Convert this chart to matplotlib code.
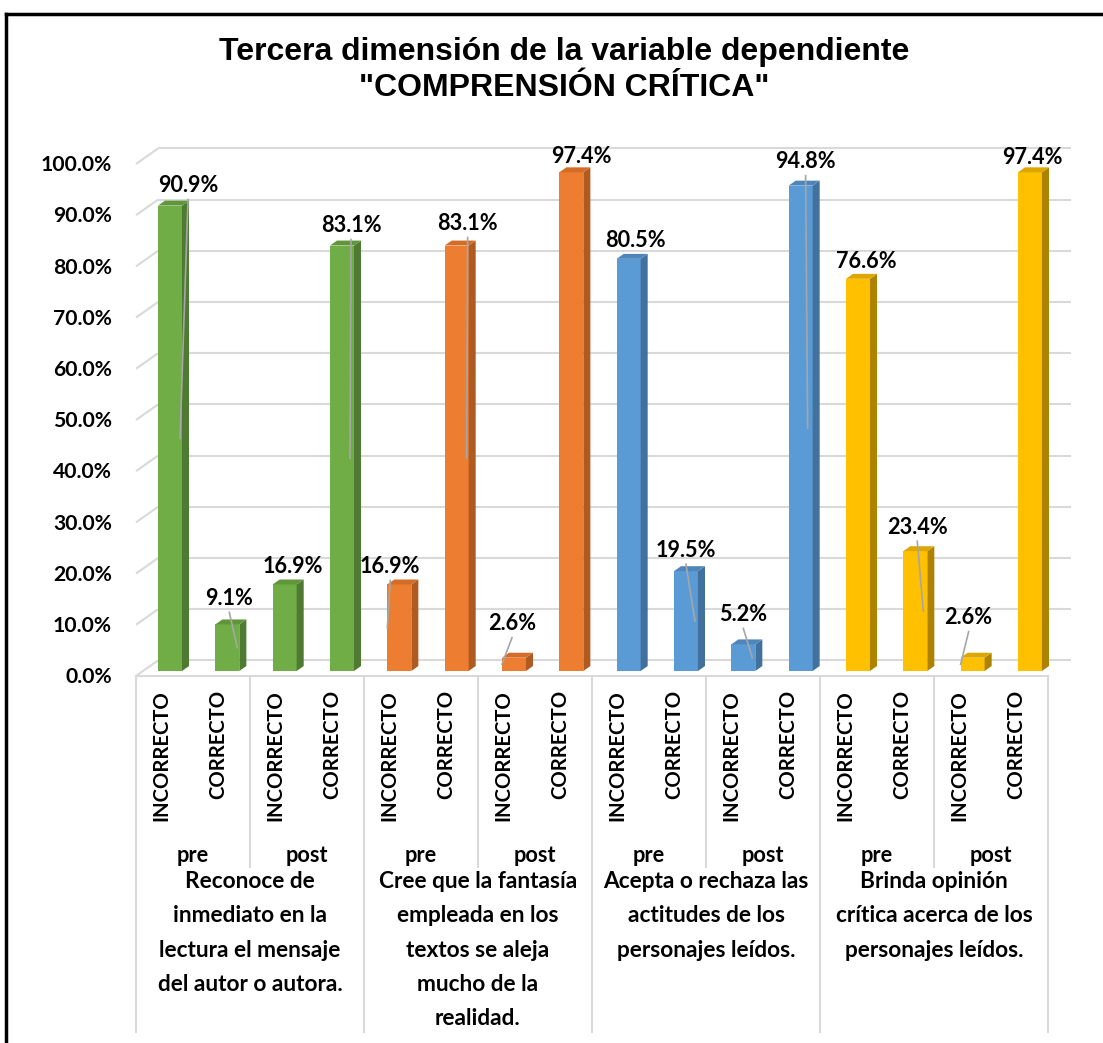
import matplotlib
matplotlib.use("Agg")
import matplotlib.pyplot as plt
from matplotlib.patches import Polygon
from matplotlib.lines import Line2D

# ---------------- data ----------------
groups = ["Reconoce de\ninmediato en la\nlectura el mensaje\ndel autor o autora.",
          "Cree que la fantasía\nempleada en los\ntextos se aleja\nmucho de la\nrealidad.",
          "Acepta o rechaza las\nactitudes de los\npersonajes leídos.",
          "Brinda opinión\ncrítica acerca de los\npersonajes leídos."]
phases = ["pre", "post"]
answers = ["INCORRECTO", "CORRECTO"]
green_vals = [90.9, 9.1, 16.9, 83.1]
orange_vals = [16.9, 83.1, 2.6, 97.4]
blue_vals = [80.5, 19.5, 5.2, 94.8]
yellow_vals = [76.6, 23.4, 2.6, 97.4]
yticks = [0, 10, 20, 30, 40, 50, 60, 70, 80, 90, 100]
title = 'Tercera dimensión de la variable dependiente\n"COMPRENSIÓN CRÍTICA"'

series_vals = [green_vals, orange_vals, blue_vals, yellow_vals]
values = [v for s in series_vals for v in s]

# ---------------- styles ----------------
front_cols = ["#70AD47", "#ED7D31", "#5B9BD5", "#FFC000"]
side_cols = ["#4E7A31", "#AE5A21", "#41719C", "#AD8200"]
top_cols = ["#5E9639", "#D36C26", "#4E86BC", "#DDA600"]
grid_col = "#D9D9D9"
lead_col = "#A6A6A6"

# label offsets (pixels) relative to bar front-top centre
lab_dx = [18, 2, 8, 9, -9, 11, -2, 10, 7, 0, 0, 5, 8, 2, -4, 2]
lab_dy = [20, 26, 18, 20, 18, 22, 34, 16, 18, 21, 30, 24, 17, 24, 40, 15]
# leader line end x-offset (pixels) relative to bar centre, None = no leader
lead_dx = [10, 10, None, 8, -12, 10, -12, None, None, 9, 9, 7, None, 8, -12, None]

FONT = ["Lato", "DejaVu Sans"]
FS_VAL = 15.6
FS_TICK = 15.2
FS_CAT = 14.6
FS_PHASE = 15.6
FS_GROUP = 16.3
W, H = 1103, 1043
fig = plt.figure(figsize=(W / 100, H / 100), dpi=100)

# pixel geometry of the main plot
X0, SX = 170.0, 57.33      # pixel x of bar 0 centre, pixels per category
Y0, SY = 671.0, 5.12       # pixel y of 0 % (bar plane), pixels per %
DXP, DYP = 22.0, 15.5      # full depth offset in pixels
D0, DD = 0.32, 0.32        # bar plane depth, bar depth
AX_L, AX_R, AX_T, AX_B = 112, 1090, 130, 690

ax = fig.add_axes([AX_L / W, 1 - AX_B / H, (AX_R - AX_L) / W, (AX_B - AX_T) / H])
ax.set_xlim((AX_L - X0) / SX, (AX_R - X0) / SX)
ax.set_ylim((Y0 - AX_B) / SY, (Y0 - AX_T) / SY)
for s in ax.spines.values():
    s.set_visible(False)
ax.set_xticks([])
ax.set_yticks([])
ax.set_facecolor("none")

def depth(d):
    return ((d - D0) * DXP / SX, (d - D0) * DYP / SY)

# gridlines (left wall + back wall)
fx, fy = depth(0.0)
bx, by = depth(1.0)
left_front = (136 - X0) / SX
right_back = (1071 - X0) / SX
for v in yticks:
    ax.plot([left_front, left_front + (bx - fx)], [v + fy, v + by], color=grid_col, lw=1.5, zorder=1,
            solid_capstyle="butt")
    ax.plot([left_front + (bx - fx), right_back], [v + by, v + by], color=grid_col, lw=1.5, zorder=1,
            solid_capstyle="butt")
    # y tick label on the front plane
    ax.text((112 - X0) / SX, v + fy - 1.2 / SY, f"{v:.1f}%", ha="right", va="center",
            fontsize=FS_TICK, fontweight="bold", family=FONT, clip_on=False)
# floor front edge
ax.plot([left_front, (1048 - X0) / SX], [fy, fy], color=grid_col, lw=1.5, zorder=1, clip_on=False)

# bars
bw = 24.0 / SX
ddx, ddy = DD * DXP / SX, DD * DYP / SY
xs = list(range(len(values)))
cols_front = [front_cols[i // 4] for i in xs]
ax.bar(xs, values, width=bw, color=cols_front, zorder=3, linewidth=0)
for i, v in enumerate(values):
    g = i // 4
    r = i + bw / 2
    l = i - bw / 2
    ax.add_patch(Polygon([(r, 0), (r + ddx, ddy), (r + ddx, v + ddy), (r, v)], closed=True,
                         facecolor=side_cols[g], edgecolor="none", zorder=3))
    ax.add_patch(Polygon([(l, v), (r, v), (r + ddx, v + ddy), (l + ddx, v + ddy)], closed=True,
                         facecolor=top_cols[g], edgecolor="none", zorder=3))
    lx = i + lab_dx[i] / SX
    ly = v + lab_dy[i] / SY
    ax.text(lx, ly, f"{v:.1f}%", ha="center", va="center", fontsize=FS_VAL, fontweight="bold",
            family=FONT, color="black", zorder=6)
    if lead_dx[i] is not None:
        ax.plot([lx, i + lead_dx[i] / SX], [ly - 14 / SY, v / 2], color=lead_col, lw=1.2, zorder=5)

# ---------------- category table ----------------
T_L, T_R, T_T, T_B = 136, 1048, 675, 1040
tax = fig.add_axes([T_L / W, 1 - T_B / H, (T_R - T_L) / W, (T_B - T_T) / H])
tax.set_xlim(0, 16)
tax.set_ylim(T_B, T_T)
tax.axis("off")
n = len(values)
for k in range(0, n + 1, 2):
    full = (k % 4 == 0)
    tax.plot([k, k], [T_T, 1033 if full else 868], color=grid_col, lw=1.5, clip_on=False,
             solid_capstyle="butt")
for k in range(n):
    tax.text(k + 0.45, 690, answers[k % 2], rotation=90, ha="center", va="top", fontsize=FS_CAT,
             fontweight="bold", family=FONT)
for j in range(n // 2):
    tax.text(2 * j + 1, 855, phases[j % 2], ha="center", va="center", fontsize=FS_PHASE,
             fontweight="bold", family=FONT)
for g, txt in enumerate(groups):
    tax.text(4 * g + 2, 871, txt, ha="center", va="top", fontsize=FS_GROUP, fontweight="bold",
             family=FONT, linespacing=1.78, multialignment="center")

# ---------------- title & frame ----------------
fig.text(564 / W, 1 - 70 / H, title, ha="center", va="center", fontsize=23, fontweight="bold",
         family=["Liberation Sans", "DejaVu Sans"], linespacing=1.22)
fig.add_artist(Line2D([6 / W, 6 / W], [0, 1 - 14 / H], color="black", lw=2.5))
fig.add_artist(Line2D([6 / W, 1], [1 - 14 / H, 1 - 14 / H], color="black", lw=2.5))

fig.savefig("out.png", dpi=100, facecolor="white")
